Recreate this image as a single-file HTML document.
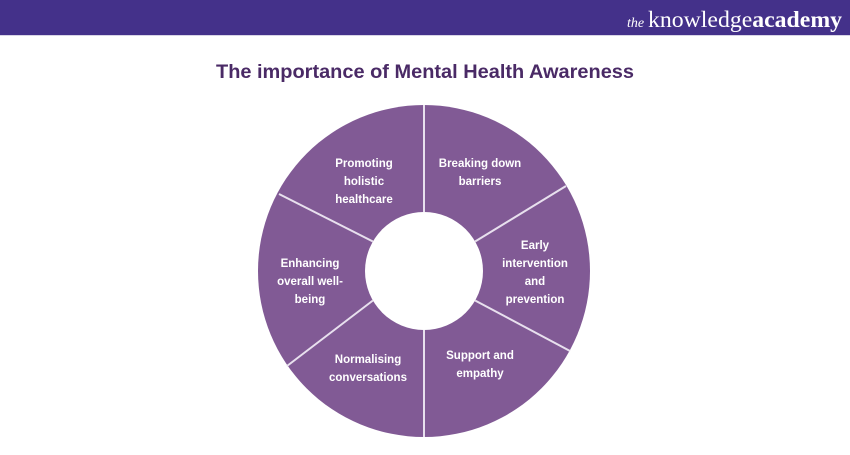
<!DOCTYPE html>
<html><head><meta charset="utf-8"><style>
body{margin:0;width:850px;height:450px;background:#fff;overflow:hidden}
</style></head><body>
<svg width="850" height="450" xmlns="http://www.w3.org/2000/svg">
<rect x="0" y="0" width="850" height="35" fill="#44318a"/>
<rect x="0" y="35" width="850" height="1" fill="#d8d4e6"/>
<text x="627" y="27" font-family="Liberation Serif, serif" font-size="14" font-style="italic" fill="#fff">the</text>
<text x="648" y="27" font-family="Liberation Serif, serif" font-size="23" fill="#fff" textLength="194" lengthAdjust="spacingAndGlyphs">knowledge<tspan font-weight="bold">academy</tspan></text>
<text x="425" y="78" text-anchor="middle" font-family="Liberation Sans, sans-serif" font-size="19" font-weight="bold" fill="#4a2a66" textLength="418" lengthAdjust="spacingAndGlyphs">The importance of Mental Health Awareness</text>
<circle cx="424" cy="271" r="166" fill="#815a95"/>
<g stroke="#e8e0ee" stroke-width="2">
<line x1="424" y1="105" x2="424" y2="212"/>
<line x1="566" y1="186" x2="475.1" y2="241.5"/>
<line x1="570" y1="351" x2="475.1" y2="300.5"/>
<line x1="424" y1="437" x2="424" y2="330"/>
<line x1="287" y1="366" x2="372.9" y2="300.5"/>
<line x1="279" y1="194" x2="372.9" y2="241.5"/>
</g>
<circle cx="424" cy="271" r="59" fill="#fff"/>
<g font-family="Liberation Sans, sans-serif" font-size="11.5" font-weight="bold" fill="#fff" text-anchor="middle">
<text x="364" y="167">Promoting</text><text x="364" y="185">holistic</text><text x="364" y="203">healthcare</text>
<text x="480" y="167">Breaking down</text><text x="480" y="185">barriers</text>
<text x="535" y="249">Early</text><text x="535" y="267">intervention</text><text x="535" y="285">and</text><text x="535" y="303">prevention</text>
<text x="480" y="359">Support and</text><text x="480" y="377">empathy</text>
<text x="368" y="363">Normalising</text><text x="368" y="381">conversations</text>
<text x="310" y="267">Enhancing</text><text x="310" y="285">overall well-</text><text x="310" y="303">being</text>
</g>
</svg>
</body></html>
